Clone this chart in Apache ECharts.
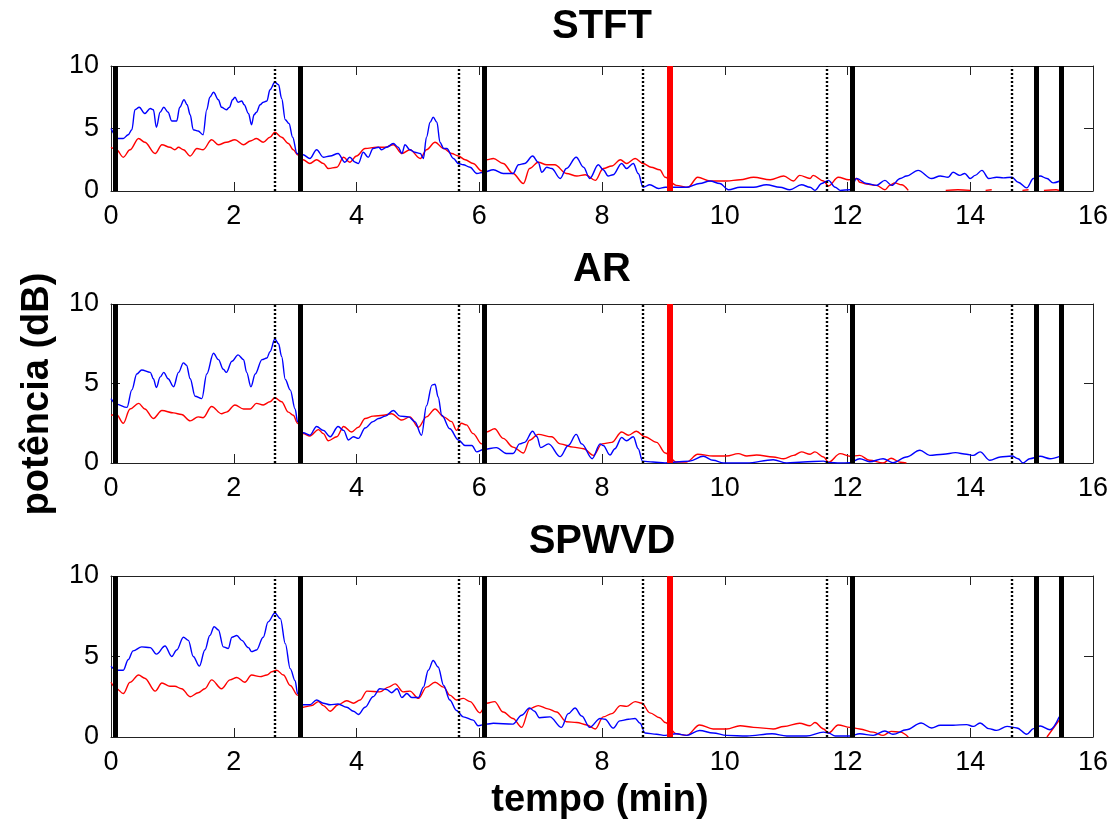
<!DOCTYPE html>
<html>
<head>
<meta charset="utf-8">
<script src="https://cdn.jsdelivr.net/npm/echarts@6/dist/echarts.min.js"></script>
<style>
html,body{margin:0;padding:0;background:#fff;}
#chart{width:1116px;height:829px;}
</style>
</head>
<body>
<div id="chart"></div>
<script>
// ---------- data ----------
var panelTitles = ['STFT', 'AR', 'SPWVD'];
var xTicks = [0, 2, 4, 6, 8, 10, 12, 14, 16];
var yTicks = [0, 5, 10];
var thickEvents = [0.07, 3.08, 6.08, 12.08, 15.08, 15.49];
var dottedEvents = [2.67, 5.67, 8.67, 11.67, 14.67];
var redEvents = [9.1];

var stftBlue = [
[0,5.0],[0.12,4.2],[0.2,4.2],[0.28,4.5],[0.34,4.9],[0.39,6.5],[0.46,6.7],[0.55,6.2],[0.64,6.6],[0.69,6.5],[0.74,5.1],[0.8,6.3],[0.86,6.7],[0.93,6.3],[0.99,5.6],[1.07,5.6],[1.12,6.7],[1.19,7.3],[1.24,6.9],[1.29,6.1],[1.34,4.9],[1.42,4.8],[1.5,4.5],[1.56,6.5],[1.61,7.5],[1.67,7.9],[1.75,7.3],[1.8,6.7],[1.88,6.5],[1.93,6.7],[1.98,7.3],[2.02,7.5],[2.07,7.1],[2.13,7.2],[2.17,6.9],[2.24,6.2],[2.29,5.3],[2.33,6.1],[2.37,6.3],[2.43,6.9],[2.48,7.1],[2.54,7.2],[2.59,8.1],[2.67,8.7],[2.73,8.5],[2.78,7.4],[2.84,5.7],[2.9,5.4],[2.96,4.3],[3.03,3.0],
[3.13,2.9],[3.24,2.6],[3.35,3.3],[3.46,2.7],[3.57,2.8],[3.7,3.0],[3.81,2.3],[3.89,2.7],[3.98,2.3],[4.03,2.2],[4.11,3.1],[4.19,2.7],[4.27,3.4],[4.36,3.5],[4.41,3.3],[4.49,3.5],[4.6,3.8],[4.68,3.5],[4.74,3.0],[4.79,3.7],[4.87,3.3],[4.95,3.1],[5.04,3.0],[5.09,2.6],[5.14,4.3],[5.2,5.5],[5.25,5.9],[5.31,5.5],[5.36,3.9],[5.42,3.4],[5.47,3.4],[5.58,2.6],[5.66,2.2],[5.74,2.1],[5.85,1.9],[5.96,1.4],[6.07,1.5],
[6.23,1.7],[6.39,1.4],[6.55,1.4],[6.64,2.1],[6.74,2.2],[6.87,2.8],[6.96,2.3],[7.02,1.5],[7.1,1.9],[7.18,1.8],[7.32,1.0],[7.42,1.8],[7.58,2.7],[7.7,1.9],[7.8,1.0],[7.94,2.1],[8.02,1.7],[8.1,1.2],[8.18,1.3],[8.32,2.2],[8.4,1.8],[8.51,2.2],[8.59,1.4],[8.67,0.3],[8.78,0.5],[8.92,0.2],[9.03,0.3],
[9.21,0.3],[9.38,0.3],[9.59,0.6],[9.76,0.8],[9.92,0.6],[10.06,0.1],[10.25,0.3],[10.47,0.3],[10.68,0.5],[10.9,0.3],[11.06,0.1],[11.25,0.5],[11.39,0.3],[11.47,0.05],[11.58,0.6],[11.69,0.85],[11.8,0.3],[11.88,0.05],[12.04,0.1],[12.15,1.0],[12.31,0.6],[12.47,0.45],[12.61,0.85],[12.72,0.45],[12.86,1.0],[12.96,1.2],[13.15,1.65],[13.37,1.0],[13.51,1.2],[13.64,1.1],[13.72,1.5],[13.83,1.25],[13.91,1.4],[14.0,1.0],[14.08,1.25],[14.19,1.65],[14.3,1.0],[14.43,1.1],[14.54,1.05],[14.68,1.1],[14.78,0.7],[14.92,0.25],[15.03,1.0],[15.14,1.2],[15.25,1.0],[15.35,0.65],[15.46,0.8]
];
var stftRed = [
[0,3.5],[0.09,3.3],[0.2,2.7],[0.31,3.3],[0.45,4.2],[0.55,3.9],[0.72,3.0],[0.83,3.7],[0.96,3.5],[1.04,3.3],[1.1,3.5],[1.18,3.3],[1.29,2.8],[1.4,3.4],[1.5,3.3],[1.64,4.1],[1.75,3.7],[1.88,3.9],[2.02,4.1],[2.16,3.7],[2.27,4.0],[2.37,4.2],[2.48,3.9],[2.59,4.3],[2.67,4.7],[2.78,4.3],[2.89,3.8],[2.97,3.3],[3.04,2.9],
[3.13,2.5],[3.24,2.2],[3.35,2.5],[3.46,2.2],[3.54,1.8],[3.68,1.9],[3.79,2.7],[3.89,2.3],[4.0,2.8],[4.14,3.4],[4.33,3.5],[4.47,3.5],[4.6,3.7],[4.74,3.0],[4.87,3.3],[5.04,2.6],[5.14,3.3],[5.28,3.9],[5.42,3.4],[5.55,3.0],[5.66,2.8],[5.77,2.5],[5.9,2.2],[6.04,1.6],[6.12,2.5],[6.23,2.6],[6.39,2.2],[6.55,1.4],[6.72,0.6],[6.82,1.8],[6.96,2.3],[7.1,2.1],[7.23,2.1],[7.42,1.4],[7.59,1.2],[7.73,1.3],[7.89,0.85],[8.02,1.8],[8.16,2.0],[8.3,2.5],[8.4,2.2],[8.54,2.6],[8.67,2.2],[8.8,1.9],[8.94,1.7],[9.03,1.1],
[9.21,0.45],[9.4,0.3],[9.56,1.1],[9.76,0.8],[10.03,0.8],[10.25,0.9],[10.47,1.1],[10.74,0.9],[10.96,1.2],[11.12,0.8],[11.22,1.25],[11.39,1.0],[11.44,1.25],[11.61,0.8],[11.69,0.4],[11.85,1.1],[12.02,0.9],[12.15,1.0],[12.2,0.7],[12.31,0.55],[12.47,0.45],[12.61,0.1],[12.69,0.45],[12.77,0.65],[12.88,0.5],[12.99,0.05],[13.05,null],[13.6,0.05],[13.8,0.1],[14.0,0.05],[14.05,null],[14.25,0.05],[14.35,0.1],[14.4,null],[14.85,0.05],[14.95,0.1],[15.0,null],[15.2,0.05],[15.4,0.1],[15.45,0.05]
];
var arBlue = [
[0,4.05],[0.09,3.7],[0.26,3.5],[0.34,4.6],[0.42,5.6],[0.5,5.85],[0.64,5.7],[0.69,5.3],[0.74,4.75],[0.8,5.4],[0.86,5.7],[0.93,5.3],[1.02,4.8],[1.1,5.7],[1.18,6.3],[1.23,6.15],[1.29,5.3],[1.37,4.2],[1.48,4.05],[1.56,5.6],[1.67,6.9],[1.75,6.5],[1.83,5.9],[1.88,5.7],[1.97,6.4],[2.07,6.8],[2.16,6.5],[2.21,5.7],[2.28,4.8],[2.35,5.6],[2.46,6.5],[2.54,6.6],[2.59,7.0],[2.67,7.8],[2.73,7.5],[2.78,6.7],[2.84,5.25],[2.92,4.6],[3.0,3.4],[3.04,2.6],
[3.13,1.9],[3.24,1.75],[3.35,2.3],[3.46,2.05],[3.57,1.65],[3.7,2.3],[3.79,2.05],[3.87,1.45],[3.95,1.65],[4.03,1.55],[4.14,2.2],[4.27,2.6],[4.36,2.8],[4.47,2.95],[4.6,3.3],[4.71,2.95],[4.85,2.9],[4.95,2.6],[5.06,1.75],[5.14,3.6],[5.23,4.9],[5.28,4.95],[5.33,4.15],[5.39,3.0],[5.52,2.15],[5.66,1.45],[5.77,1.1],[5.88,1.1],[5.96,0.7],[6.07,0.85],
[6.28,0.97],[6.44,0.6],[6.55,0.6],[6.66,1.2],[6.74,1.3],[6.87,2.0],[6.94,1.65],[7.0,0.97],[7.13,1.2],[7.32,0.4],[7.45,1.1],[7.58,1.8],[7.67,1.2],[7.84,0.27],[7.97,1.2],[8.02,1.1],[8.13,0.5],[8.21,0.9],[8.32,1.6],[8.4,1.4],[8.51,1.65],[8.59,0.9],[8.66,0.12],[8.83,0.06],[9.03,0.0],
[9.21,0.06],[9.43,0.12],[9.65,0.42],[9.81,0.17],[9.98,0.0],[10.36,0.0],[10.79,0.2],[11.01,0.0],[11.28,0.06],[11.61,0.12],[11.69,0.04],[11.88,0.0],[12.04,0.02],[12.2,0.27],[12.36,0.08],[12.58,0.27],[12.74,0.02],[12.96,0.38],[13.18,0.8],[13.34,0.48],[13.56,0.55],[13.76,0.65],[13.94,0.55],[14.05,0.48],[14.16,0.7],[14.32,0.17],[14.49,0.38],[14.68,0.44],[14.78,0.27],[14.86,0.0],[14.97,0.27],[15.14,0.42],[15.3,0.27],[15.46,0.42]
];
var arRed = [
[0,3.0],[0.09,3.05],[0.2,2.5],[0.31,3.4],[0.45,3.75],[0.55,3.4],[0.69,2.8],[0.83,3.3],[1.02,3.15],[1.15,3.05],[1.29,2.65],[1.42,2.9],[1.5,2.85],[1.64,3.55],[1.8,3.1],[1.88,3.2],[2.02,3.65],[2.16,3.4],[2.27,3.4],[2.37,3.75],[2.48,3.65],[2.59,3.85],[2.67,4.1],[2.78,3.85],[2.89,3.2],[2.97,3.0],[3.04,2.5],
[3.13,1.85],[3.24,1.7],[3.38,2.1],[3.46,1.85],[3.54,1.4],[3.68,1.65],[3.79,2.3],[3.92,1.95],[4.03,2.25],[4.14,2.8],[4.27,2.95],[4.44,3.0],[4.57,3.1],[4.74,2.7],[4.87,2.9],[5.01,2.25],[5.14,2.9],[5.28,3.4],[5.42,2.9],[5.55,2.6],[5.63,2.05],[5.71,2.5],[5.79,2.4],[5.9,1.85],[6.04,1.2],[6.12,1.95],[6.25,2.15],[6.39,1.55],[6.55,1.0],[6.72,0.63],[6.82,1.43],[6.96,1.8],[7.18,1.65],[7.32,1.2],[7.53,1.0],[7.7,0.9],[7.86,0.48],[8.0,1.2],[8.16,1.3],[8.32,1.95],[8.43,1.75],[8.56,2.0],[8.7,1.65],[8.89,1.3],[9.03,0.63],
[9.21,0.06],[9.38,0.06],[9.56,0.55],[9.81,0.44],[10.03,0.44],[10.22,0.59],[10.36,0.44],[10.52,0.5],[10.79,0.38],[10.96,0.27],[11.12,0.48],[11.25,0.7],[11.39,0.55],[11.47,0.7],[11.61,0.38],[11.69,0.04],[11.88,0.59],[12.04,0.42],[12.2,0.48],[12.36,0.17],[12.58,0.0],[12.71,0.3],[12.86,0.05],[12.96,0.0]
];
var spBlue = [
[0,4.4],[0.09,4.15],[0.2,4.15],[0.28,4.8],[0.36,5.35],[0.5,5.6],[0.64,5.55],[0.74,5.15],[0.88,5.65],[0.99,5.0],[1.07,5.4],[1.18,6.2],[1.26,6.0],[1.34,5.0],[1.44,4.4],[1.53,5.4],[1.61,6.3],[1.68,6.85],[1.75,6.65],[1.83,5.6],[1.91,5.5],[1.97,6.2],[2.05,6.3],[2.13,6.0],[2.24,5.55],[2.29,5.3],[2.37,5.4],[2.48,6.2],[2.56,7.15],[2.67,7.7],[2.76,7.35],[2.84,5.8],[2.92,4.25],[3.0,3.5],[3.04,2.7],
[3.13,2.0],[3.24,2.0],[3.35,2.3],[3.46,2.1],[3.57,2.0],[3.7,2.05],[3.84,1.85],[3.95,1.6],[4.03,1.4],[4.14,1.85],[4.27,2.5],[4.38,3.0],[4.49,2.95],[4.57,2.75],[4.66,3.0],[4.74,2.45],[4.82,2.7],[4.9,2.45],[5.01,2.45],[5.09,3.1],[5.17,4.15],[5.25,4.75],[5.33,4.35],[5.42,3.2],[5.52,2.3],[5.63,1.65],[5.74,1.25],[5.9,1.05],[5.98,0.7],[6.12,0.8],
[6.23,0.85],[6.55,0.8],[6.69,1.35],[6.82,1.8],[6.9,1.6],[6.98,1.2],[7.15,1.25],[7.34,0.6],[7.45,1.45],[7.56,1.8],[7.67,1.3],[7.8,0.6],[7.97,1.15],[8.05,1.1],[8.18,0.55],[8.29,1.0],[8.43,1.1],[8.54,1.15],[8.62,0.85],[8.7,0.25],[8.89,0.17],[9.03,0.1],
[9.21,0.2],[9.38,0.1],[9.59,0.4],[9.81,0.25],[10.03,0.1],[10.36,0.06],[10.77,0.2],[11.01,0.06],[11.33,0.06],[11.61,0.3],[11.69,0.25],[11.8,0.06],[12.04,0.06],[12.2,0.2],[12.42,0.1],[12.61,0.37],[12.74,0.17],[12.96,0.45],[13.2,0.87],[13.37,0.56],[13.51,0.73],[13.72,0.73],[13.94,0.77],[14.05,0.66],[14.16,0.87],[14.3,0.52],[14.43,0.41],[14.6,0.66],[14.76,0.56],[14.92,0.17],[15.03,0.52],[15.14,0.68],[15.3,0.45],[15.45,1.25]
];
var spRed = [
[0,3.4],[0.09,3.0],[0.2,2.7],[0.31,3.4],[0.45,3.85],[0.55,3.65],[0.72,2.85],[0.83,3.35],[0.96,3.15],[1.04,3.15],[1.15,3.0],[1.29,2.5],[1.42,2.75],[1.53,3.0],[1.64,3.55],[1.8,3.0],[1.94,3.55],[2.05,3.7],[2.18,3.4],[2.29,3.85],[2.43,3.75],[2.54,3.85],[2.62,4.05],[2.7,4.15],[2.81,3.85],[2.92,3.2],[3.04,2.6],
[3.13,1.85],[3.27,1.95],[3.38,2.2],[3.46,1.95],[3.57,1.6],[3.7,2.0],[3.84,2.25],[3.95,2.1],[4.06,2.3],[4.17,2.85],[4.38,2.8],[4.52,3.1],[4.63,3.3],[4.76,2.8],[4.87,2.85],[5.01,2.4],[5.14,3.1],[5.28,3.4],[5.42,3.1],[5.52,2.6],[5.63,2.3],[5.74,2.4],[5.85,2.2],[6.01,1.5],[6.12,2.1],[6.25,2.2],[6.39,1.55],[6.55,1.15],[6.69,0.6],[6.82,1.75],[6.96,1.95],[7.12,1.75],[7.26,1.55],[7.42,0.95],[7.59,0.9],[7.75,0.75],[7.89,0.5],[8.02,1.25],[8.16,1.45],[8.3,1.95],[8.4,1.9],[8.54,2.2],[8.65,2.1],[8.78,1.5],[8.94,1.2],[9.03,0.9],
[9.21,0.2],[9.38,0.1],[9.59,0.75],[9.81,0.5],[10.03,0.5],[10.25,0.7],[10.47,0.6],[10.79,0.5],[10.96,0.65],[11.22,0.85],[11.39,0.7],[11.47,0.9],[11.61,0.5],[11.69,0.25],[11.85,0.75],[12.04,0.6],[12.2,0.5],[12.42,0.3],[12.58,0.1],[12.71,0.35],[12.86,0.3],[12.99,0.0],[13.05,null],[15.25,0.0],[15.45,1.05]
];

// ---------- layout ----------
var FONT = "'Liberation Sans', Arial, sans-serif";
var grids = [
  {left: 111, top: 66, width: 982, height: 125},
  {left: 111, top: 304, width: 982, height: 159},
  {left: 111, top: 576, width: 982, height: 161}
];
var titleY = [27, 270, 542];
var blues = [stftBlue, arBlue, spBlue];
var reds = [stftRed, arRed, spRed];

var frame = '#222';
function xAx(i, pos) {
  return {
    type: 'value', gridIndex: i, position: pos, min: xTicks[0], max: xTicks[xTicks.length - 1],
    interval: xTicks[1] - xTicks[0],
    axisLine: {show: true, onZero: false, lineStyle: {color: frame, width: 1}},
    axisTick: {show: true, inside: true, length: 9, lineStyle: {color: frame, width: 1}},
    axisLabel: {show: pos === 'bottom', fontSize: 27, color: '#000', fontFamily: FONT, margin: 12},
    splitLine: {show: false}
  };
}
function yAx(i, pos) {
  return {
    type: 'value', gridIndex: i, position: pos, min: yTicks[0], max: yTicks[yTicks.length - 1],
    interval: yTicks[1] - yTicks[0],
    axisLine: {show: true, onZero: false, lineStyle: {color: frame, width: 1}},
    axisTick: {show: true, inside: true, length: 9, lineStyle: {color: frame, width: 1}},
    axisLabel: {show: pos === 'left', fontSize: 27, color: '#000', fontFamily: FONT, margin: 12},
    splitLine: {show: false}
  };
}

var xAxes = [], yAxes = [], series = [], graphics = [];
grids.forEach(function (g, i) {
  xAxes.push(xAx(i, 'bottom'));
  xAxes.push(xAx(i, 'top'));
  yAxes.push(yAx(i, 'left'));
  yAxes.push(yAx(i, 'right'));
  var xi = i * 2, yi = i * 2;
  series.push({
    type: 'line', xAxisIndex: xi, yAxisIndex: yi, data: reds[i], showSymbol: false,
    smooth: 0.35, smoothMonotone: 'x', connectNulls: false,
    lineStyle: {color: '#ff0000', width: 1.4}, z: 3, animation: false
  });
  var ml = [];
  thickEvents.forEach(function (x) { ml.push({xAxis: x, lineStyle: {color: '#000', width: 5, type: 'solid'}}); });
  dottedEvents.forEach(function (x) { ml.push({xAxis: x, lineStyle: {color: '#000', width: 2.4, type: [2, 2]}}); });
  redEvents.forEach(function (x) { ml.push({xAxis: x, lineStyle: {color: '#ff0000', width: 6, type: 'solid'}}); });
  series.push({
    type: 'line', xAxisIndex: xi, yAxisIndex: yi, data: blues[i], showSymbol: false,
    smooth: 0.35, smoothMonotone: 'x',
    lineStyle: {color: '#0000ff', width: 1.4}, z: 4, animation: false,
    markLine: {silent: true, symbol: 'none', label: {show: false}, animation: false, data: ml}
  });
  graphics.push({
    type: 'text', x: g.left + g.width / 2, y: titleY[i],
    style: {text: panelTitles[i], font: 'bold 40px ' + FONT, fill: '#000',
            align: 'center', verticalAlign: 'middle', textAlign: 'center', textVerticalAlign: 'middle'}
  });
});
graphics.push({
  type: 'text', x: 600, y: 801,
  style: {text: 'tempo (min)', font: 'bold 38px ' + FONT, fill: '#000',
          align: 'center', verticalAlign: 'middle', textAlign: 'center', textVerticalAlign: 'middle'}
});
graphics.push({
  type: 'text', x: 38, y: 394, rotation: Math.PI / 2,
  style: {text: 'potência (dB)', font: 'bold 38px ' + FONT, fill: '#000',
          align: 'center', verticalAlign: 'middle', textAlign: 'center', textVerticalAlign: 'middle'}
});

var chart = echarts.init(document.getElementById('chart'), null, {renderer: 'canvas'});
chart.setOption({
  backgroundColor: '#fff',
  animation: false,
  grid: grids.map(function (g) { return Object.assign({containLabel: false}, g); }),
  xAxis: xAxes,
  yAxis: yAxes,
  series: series,
  graphic: graphics
});
</script>
</body>
</html>
